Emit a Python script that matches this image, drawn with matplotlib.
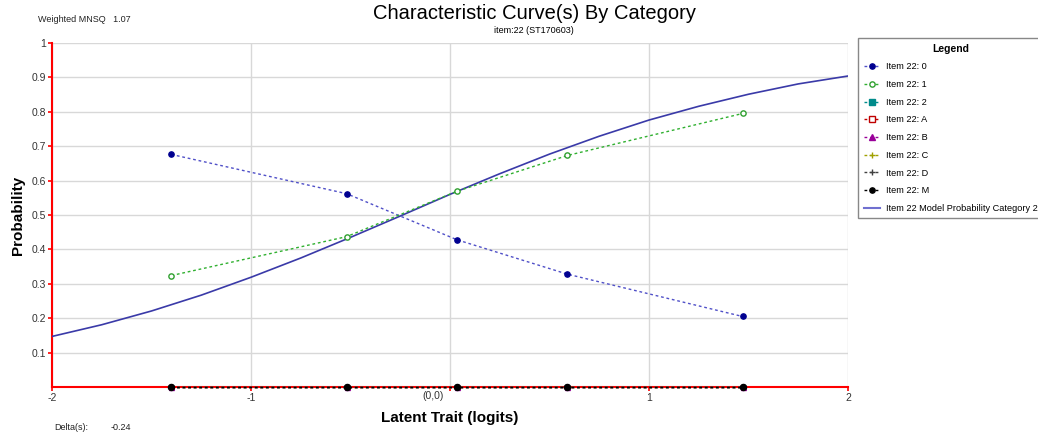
import matplotlib
matplotlib.use('Agg')
import matplotlib.pyplot as plt
from matplotlib.lines import Line2D

plt.rcParams['font.family'] = ['Liberation Sans', 'DejaVu Sans']

# observed points (latent trait groups)
theta = [-1.40, -0.52, 0.035, 0.59, 1.47]
cat_0 = [0.676, 0.562, 0.428, 0.328, 0.205]
cat_1 = [0.324, 0.437, 0.569, 0.673, 0.795]
cat_2 = [0, 0, 0, 0, 0]
cat_A = [0, 0, 0, 0, 0]
cat_B = [0, 0, 0, 0, 0]
cat_C = [0, 0, 0, 0, 0]
cat_D = [0, 0, 0, 0, 0]
cat_M = [0, 0, 0, 0, 0]

# model curve
model_x = [-2, -1.75, -1.5, -1.25, -1, -0.75, -0.5, -0.25, 0, 0.25, 0.5, 0.75, 1, 1.25, 1.5, 1.75, 2]
model_y = [0.147, 0.181, 0.221, 0.267, 0.319, 0.375, 0.435, 0.497, 0.560, 0.620, 0.677, 0.729,
           0.776, 0.816, 0.851, 0.881, 0.904]

x_ticks = [-2, -1, 0, 1, 2]
x_labels = ['-2', '-1', '', '1', '2']
y_ticks = [0.1, 0.2, 0.3, 0.4, 0.5, 0.6, 0.7, 0.8, 0.9, 1.0]
y_labels = ['0.1', '0.2', '0.3', '0.4', '0.5', '0.6', '0.7', '0.8', '0.9', '1']

fig = plt.figure(figsize=(10.38, 4.43), dpi=100)
ax = fig.add_axes([0.0501, 0.1264, 0.7669, 0.7766])

# series styles: (label, data, line color, marker, marker face, marker edge, marker size)
series = [
    ('Item 22: 0', cat_0, '#5050c8', 'o', '#000090', '#000090', 3.8),
    ('Item 22: 1', cat_1, '#30b030', 'o', 'white', '#30a030', 3.8),
    ('Item 22: 2', cat_2, '#008b8b', 's', '#008b8b', '#008b8b', 3.2),
    ('Item 22: A', cat_A, '#c00000', 's', 'white', '#c00000', 3.2),
    ('Item 22: B', cat_B, '#990099', '^', '#990099', '#990099', 3.6),
    ('Item 22: C', cat_C, '#a0a000', '+', '#a0a000', '#a0a000', 3.6),
    ('Item 22: D', cat_D, '#404040', '+', '#404040', '#404040', 3.6),
    ('Item 22: M', cat_M, '#000000', 'o', '#000000', '#000000', 4.4),
]

handles = []
for label, vals, lc, mk, mf, me, ms in series:
    ax.plot(theta, vals, linestyle=(0, (2, 2)), color=lc, linewidth=1, zorder=3, clip_on=False)
    ax.plot(theta, vals, linestyle='none', marker=mk, markersize=ms, markerfacecolor=mf,
            markeredgecolor=me, markeredgewidth=1, zorder=4, clip_on=False)
    handles.append(Line2D([], [], linestyle=(0, (2, 2)), color=lc, linewidth=1, marker=mk,
                          markersize=3.8, markerfacecolor=mf, markeredgecolor=me))

ax.plot(model_x, model_y, color='#3a3aa8', linewidth=1.2, zorder=2)
handles.append(Line2D([], [], color='#7070d0', linewidth=1.5))

ax.set_xlim(-2, 2)
ax.set_ylim(0, 1)
ax.set_xticks(x_ticks)
ax.set_xticklabels(x_labels)
ax.set_yticks(y_ticks)
ax.set_yticklabels(y_labels)
ax.grid(True, color='#d8d8d8', linewidth=1)
ax.set_axisbelow(True)
for s in ['top', 'right']:
    ax.spines[s].set_visible(False)
for s in ['left', 'bottom']:
    ax.spines[s].set_color('red')
    ax.spines[s].set_linewidth(1.5)
    ax.spines[s].set_zorder(1)
ax.tick_params(axis='both', colors='red', labelcolor='#333333', labelsize=7.5, length=3, width=1.2, pad=1)
ax.text(-0.03, -0.012, '(0,0)', ha='right', va='top', fontsize=7.5, color='#333333')

ax.set_xlabel('Latent Trait (logits)', fontsize=11, fontweight='bold', labelpad=6)
ax.set_ylabel('Probability', fontsize=11, fontweight='bold', labelpad=5)

fig.text(0.5145, 0.97, 'Characteristic Curve(s) By Category', ha='center', va='center', fontsize=14.5)
fig.text(0.5145, 0.932, 'item:22 (ST170603)', ha='center', va='center', fontsize=6.5)
fig.text(0.037, 0.957, 'Weighted MNSQ   1.07', ha='left', va='center', fontsize=6.5, color='#222222')
fig.text(0.052, 0.035, 'Delta(s):', ha='left', va='center', fontsize=6.5, color='#222222')
fig.text(0.107, 0.035, '-0.24', ha='left', va='center', fontsize=6.5, color='#222222')

labels = [s[0] for s in series] + ['Item 22 Model Probability Category 2']
leg = fig.legend(handles, labels, loc='upper left', bbox_to_anchor=(0.8266, 0.914),
                 fontsize=6.6, title='Legend', fancybox=False, edgecolor='#888888',
                 handlelength=1.8, handletextpad=0.7, labelspacing=0.95, borderpad=0.6,
                 borderaxespad=0, framealpha=1)
leg.get_title().set_fontweight('bold')
leg.get_title().set_fontsize(7.5)
leg.get_frame().set_linewidth(1)

fig.savefig('out.png', dpi=100)
